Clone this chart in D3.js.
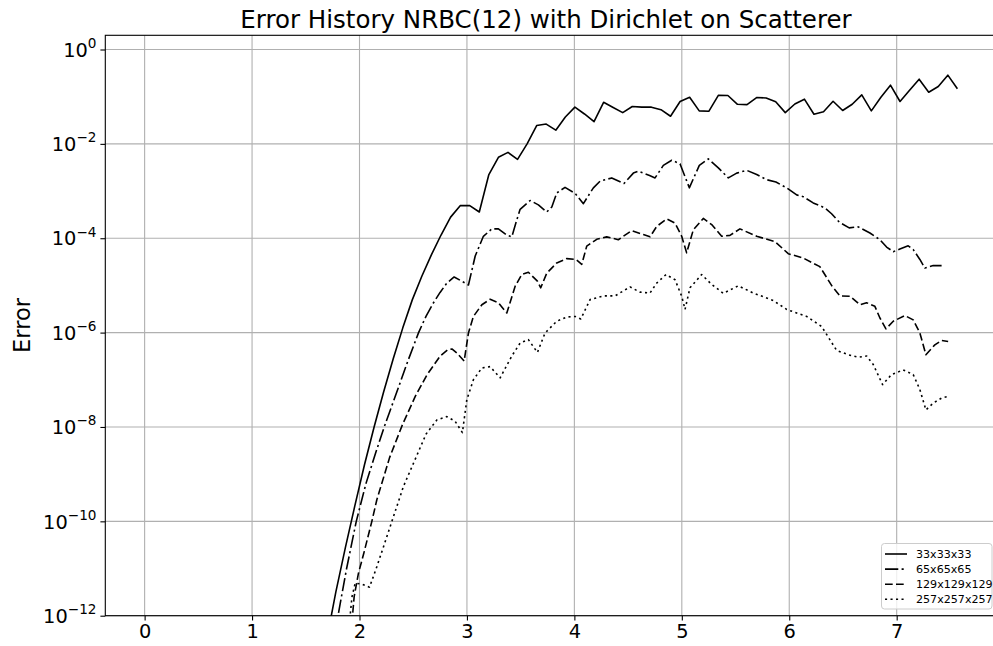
<!DOCTYPE html>
<html><head><meta charset="utf-8">
<script src="https://cdn.jsdelivr.net/npm/d3@7"></script>
<style>body{margin:0;background:#fff} svg{display:block;font-family:"DejaVu Sans",sans-serif}</style>
</head><body><svg id="c" width="993" height="646"></svg>
<script>
// ---------- data ----------
const titleText = "Error History NRBC(12) with Dirichlet on Scatterer";
const yLabelText = "Error";
const xTicks = [0, 1, 2, 3, 4, 5, 6, 7];
const yTicks = [1, 1e-2, 1e-4, 1e-6, 1e-8, 1e-10, 1e-12];
const yTickExps = ["0", "\u22122", "\u22124", "\u22126", "\u22128", "\u221210", "\u221212"];
const seriesNames = ["33x33x33", "65x65x65", "129x129x129", "257x257x257"];

const t33 = [1.691,1.780,1.869,1.958,2.047,2.136,2.225,2.314,2.403,2.492,2.581,2.670,2.759,2.848,2.937,3.026,3.115,3.204,3.293,3.382,3.471,3.560,3.649,3.738,3.827,3.916,4.005,4.094,4.183,4.272,4.361,4.450,4.539,4.628,4.717,4.806,4.895,4.984,5.073,5.162,5.251,5.340,5.429,5.518,5.607,5.696,5.785,5.874,5.963,6.052,6.141,6.230,6.319,6.408,6.497,6.586,6.675,6.764,6.853,6.942,7.031,7.120,7.209,7.298,7.387,7.476,7.565];
const e33 = [2.8e-13,3.2e-12,2.8e-11,2.2e-10,1.6e-9,1.0e-8,5.6e-8,2.8e-7,1.26e-6,5.0e-6,
             1.58e-5,4.5e-5,1.17e-4,2.8e-4,4.9e-4,4.9e-4,3.6e-4,2.24e-3,5.2e-3,6.6e-3,
             4.7e-3,1.0e-2,2.45e-2,2.63e-2,1.95e-2,3.7e-2,6.0e-2,4.3e-2,2.95e-2,7.6e-2,
             5.9e-2,4.6e-2,6.2e-2,6.0e-2,6.0e-2,5.3e-2,3.85e-2,7.9e-2,9.75e-2,5.0e-2,
             4.9e-2,0.107,0.106,6.9e-2,6.8e-2,9.6e-2,9.4e-2,7.8e-2,4.6e-2,7.0e-2,
             8.85e-2,4.25e-2,4.8e-2,8.0e-2,5.1e-2,6.9e-2,0.109,5.0e-2,9.75e-2,0.175,
             7.9e-2,0.137,0.235,0.124,0.164,0.286,0.147];

const t65 = [1.77,1.80,1.88,1.97,2.06,2.15,2.23,2.31,2.38,2.45,2.55,2.62,2.689,2.75,2.813,2.881,2.952,3.014,3.077,3.153,
             3.232,3.293,3.371,3.418,3.464,3.495,3.588,3.665,3.743,3.79,3.836,3.913,4.007,4.084,4.146,4.177,4.239,4.348,4.462,4.549,
             4.595,4.70,4.751,4.828,4.906,4.983,5.07,5.163,5.247,5.34,5.433,5.511,5.604,5.697,5.79,5.876,5.976,6.069,6.13,6.223,
             6.332,6.394,6.465,6.558,6.642,6.751,6.844,6.906,6.968,7.03,7.107,7.154,7.216,7.262,7.34,7.418];
const e65 = [4.0e-13,1.0e-12,1.0e-11,1.0e-10,6.3e-10,2.8e-9,1.0e-8,3.2e-8,8.9e-8,2.5e-7,1.0e-6,2.24e-6,4.3e-6,7.1e-6,1.12e-5,1.51e-5,1.23e-5,1.02e-5,4.2e-5,1.1e-4,
             1.58e-4,1.58e-4,1.17e-4,1.07e-4,2.45e-4,4.1e-4,6.3e-4,5.1e-4,3.6e-4,4.6e-4,9.1e-4,1.2e-3,8.9e-4,5.4e-4,9.1e-4,1.17e-3,1.62e-3,1.9e-3,1.45e-3,2.4e-3,
             2.63e-3,2.14e-3,1.9e-3,3.5e-3,4.5e-3,3.8e-3,1.17e-3,3.5e-3,4.8e-3,3.1e-3,1.9e-3,2.4e-3,2.75e-3,2.24e-3,1.74e-3,1.55e-3,1.17e-3,8.3e-4,7.6e-4,5.6e-4,
             4.4e-4,3.3e-4,2.2e-4,1.66e-4,1.74e-4,1.29e-4,9.3e-5,6.5e-5,5.2e-5,5.9e-5,6.9e-5,5.75e-5,3.55e-5,2.34e-5,2.63e-5,2.63e-5];

const t129 = [1.92,1.95,1.99,2.04,2.115,2.162,2.28,2.40,2.52,2.627,2.751,2.82,2.86,2.906,2.974,3.014,3.06,3.139,3.216,3.293,
              3.371,3.448,3.51,3.572,3.656,3.687,3.743,3.836,3.929,4.016,4.069,4.115,4.208,4.301,4.409,4.534,4.642,4.704,4.766,4.86,
              4.937,4.999,5.045,5.107,5.2,5.278,5.371,5.448,5.541,5.697,5.867,5.991,6.13,6.285,6.394,6.472,6.565,6.658,6.72,6.797,
              6.844,6.9,6.968,7.076,7.154,7.216,7.272,7.355,7.418,7.479];
const e129 = [4.0e-13,2.5e-12,7.9e-12,2.1e-11,1.0e-10,2.9e-10,2.24e-9,1.12e-8,4.5e-8,1.26e-7,3.2e-7,4.3e-7,4.5e-7,3.7e-7,2.5e-7,9.8e-7,2.2e-6,3.9e-6,5.1e-6,4.3e-6,
              2.6e-6,9.5e-6,1.7e-5,1.9e-5,1.23e-5,8.9e-6,1.82e-5,3.0e-5,3.7e-5,3.55e-5,2.8e-5,6.8e-5,9.5e-5,1.07e-4,9.3e-5,1.45e-4,1.2e-4,1.07e-4,1.78e-4,2.57e-4,
              2.1e-4,1.1e-4,4.9e-5,1.51e-4,2.63e-4,1.95e-4,1.1e-4,1.15e-4,1.58e-4,1.1e-4,8.5e-5,4.7e-5,3.8e-5,2.5e-5,1.0e-5,6.0e-6,5.9e-6,3.9e-6,4.3e-6,3.6e-6,
              2.04e-6,1.2e-6,1.74e-6,2.3e-6,1.86e-6,9.8e-7,3.4e-7,5.5e-7,6.8e-7,6.5e-7];

const t257 = [1.90,1.93,1.96,2.02,2.093,2.162,2.286,2.409,2.534,2.62,2.72,2.813,2.89,2.958,2.999,3.06,3.139,3.216,3.309,3.418,
              3.495,3.572,3.656,3.727,3.836,3.929,4.007,4.06,4.146,4.27,4.379,4.518,4.611,4.704,4.766,4.853,4.937,4.999,5.03,5.076,
              5.185,5.278,5.386,5.526,5.665,5.851,5.976,6.162,6.301,6.378,6.441,6.549,6.642,6.72,6.782,6.869,6.952,7.06,7.154,7.216,
              7.272,7.34,7.418,7.488];
const e257 = [5.0e-13,2.5e-12,4.9e-12,4.7e-12,4.0e-12,1.1e-11,7.8e-11,5.5e-10,2.5e-9,7.1e-9,1.41e-8,1.66e-8,1.32e-8,7.6e-9,3.8e-8,1.0e-7,1.78e-7,1.9e-7,1.1e-7,3.2e-7,
              6.0e-7,7.1e-7,3.8e-7,9.8e-7,1.74e-6,2.14e-6,2.2e-6,1.95e-6,5.0e-6,6.0e-6,6.0e-6,9.3e-6,7.2e-6,6.9e-6,1.12e-5,1.7e-5,1.32e-5,5.9e-6,3.1e-6,8.9e-6,
              1.7e-5,1.05e-5,6.8e-6,9.8e-6,6.9e-6,4.8e-6,3.1e-6,2.2e-6,1.35e-6,7.1e-7,4.2e-7,3.4e-7,3.0e-7,3.2e-7,2.1e-7,7.9e-8,1.29e-7,1.62e-7,1.29e-7,6.2e-8,
              2.3e-8,3.2e-8,4.1e-8,4.5e-8];

// ---------- layout / style ----------
const W = 993, H = 646;
const L = 105.3, R = 998, T = 35.3, B = 615.7;
const dashes = ["none", "13.3 3.3 2.1 3.3", "7.7 3.3", "2.1 3.4"];

const svg = d3.select("#c");
const x = d3.scaleLinear().domain([-0.366, 7.943]).range([L, R]);
const y = d3.scaleLog().domain([1e-12, 2]).range([B, T]);

svg.append("rect").attr("width", W).attr("height", H).attr("fill", "#fff");

svg.append("defs").append("clipPath").attr("id", "clip")
  .append("rect").attr("x", L).attr("y", T).attr("width", R - L).attr("height", B - T);

// grid
const grid = svg.append("g").attr("stroke", "#b0b0b0").attr("stroke-width", 1.1);
grid.selectAll(".gx").data(xTicks).join("line")
  .attr("x1", d => x(d)).attr("x2", d => x(d)).attr("y1", T).attr("y2", B);
grid.selectAll(".gy").data(yTicks).join("line")
  .attr("x1", L).attr("x2", R).attr("y1", d => y(d)).attr("y2", d => y(d));

// series
const line = d3.line().x(d => x(d[0])).y(d => y(d[1]));
const allSeries = [[t33, e33], [t65, e65], [t129, e129], [t257, e257]];
const plot = svg.append("g").attr("clip-path", "url(#clip)");
allSeries.forEach((s, i) => {
  plot.append("path")
    .attr("d", line(d3.zip(s[0], s[1])))
    .attr("fill", "none").attr("stroke", "#000").attr("stroke-width", 1.6)
    .attr("stroke-linejoin", "round")
    .attr("stroke-dasharray", dashes[i]);
});

// axes
const xAxis = svg.append("g").attr("transform", `translate(0,${B})`)
  .call(d3.axisBottom(x).tickValues(xTicks).tickSize(4.9).tickPadding(4).tickFormat(d3.format("d")));
xAxis.select(".domain").remove();
xAxis.selectAll("line").attr("stroke", "#000").attr("stroke-width", 1.1);
xAxis.selectAll("text").attr("font-size", 19.4).attr("font-family", "DejaVu Sans").attr("fill", "#000");

const yAxis = svg.append("g").attr("transform", `translate(${L},0)`)
  .call(d3.axisLeft(y).tickValues(yTicks).tickSize(4.9).tickFormat(""));
yAxis.select(".domain").remove();
yAxis.selectAll("line").attr("stroke", "#000").attr("stroke-width", 1.1);

const yl = svg.append("g").attr("font-family", "DejaVu Sans").attr("fill", "#000");
yTicks.forEach((v, i) => {
  const t = yl.append("text").attr("x", 96.5).attr("y", y(v) + 7.2)
    .attr("text-anchor", "end").attr("font-size", 19.4);
  t.append("tspan").text("10");
  t.append("tspan").attr("font-size", 13.6).attr("dy", -8.7).text(yTickExps[i]);
});

// spines
const sp = svg.append("g").attr("stroke", "#000").attr("stroke-width", 1.1).attr("fill", "none");
sp.append("rect").attr("x", L).attr("y", T).attr("width", R - L).attr("height", B - T);

// title & label
svg.append("text").attr("x", 546).attr("y", 28).attr("text-anchor", "middle")
  .attr("font-size", 24.5).attr("fill", "#000").text(titleText);
svg.append("text").attr("transform", `translate(30,${(T + B) / 2}) rotate(-90)`)
  .attr("text-anchor", "middle").attr("font-size", 22.5).attr("fill", "#000").text(yLabelText);

// legend
const lg = svg.append("g");
lg.append("rect").attr("x", 881.5).attr("y", 543.5).attr("width", 110.5).attr("height", 65.5)
  .attr("rx", 3).attr("fill", "#fff").attr("fill-opacity", 0.8).attr("stroke", "#cccccc").attr("stroke-width", 1);
seriesNames.forEach((n, i) => {
  const yy = 554 + i * 15.1;
  lg.append("line").attr("x1", 885).attr("x2", 907).attr("y1", yy).attr("y2", yy)
    .attr("stroke", "#000").attr("stroke-width", 1.6).attr("stroke-dasharray", dashes[i]);
  lg.append("text").attr("x", 916).attr("y", yy + 4).attr("font-size", 11.1).attr("fill", "#000").text(n);
});
</script></body></html>
